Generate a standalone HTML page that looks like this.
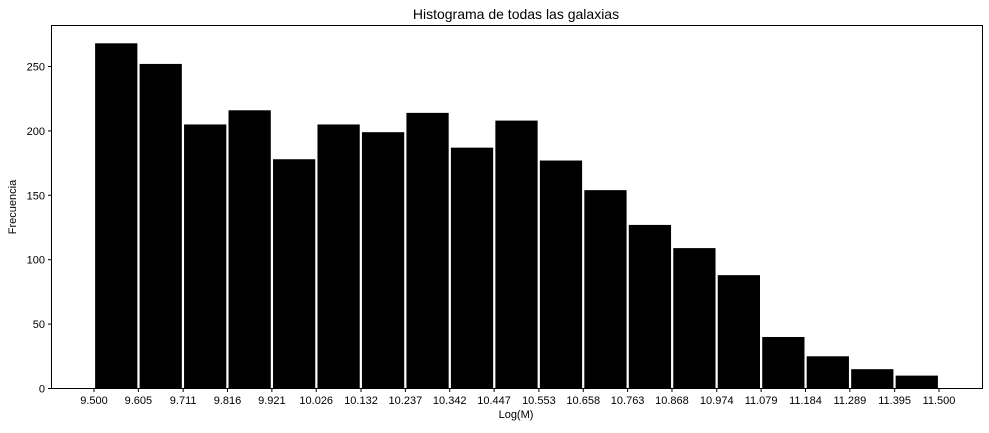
<!DOCTYPE html>
<html><head><meta charset="utf-8"><style>
body{margin:0;background:#fff;}
svg text{font-family:"Liberation Sans","DejaVu Sans",sans-serif;fill:#000;}
</style></head><body>
<svg id="chart" width="989" height="428" xmlns="http://www.w3.org/2000/svg">
<rect width="989" height="428" fill="#fff"/>
<text x="516" y="19" font-size="14" text-anchor="middle">Histograma de todas las galaxias</text>
<text x="516" y="418" font-size="11" text-anchor="middle">Log(M)</text>
<text transform="translate(16,207) rotate(-90)" font-size="11" text-anchor="middle">Frecuencia</text>
<g id="bars"></g><g id="axes"></g>
<rect x="51.5" y="25.5" width="931" height="363" fill="none" stroke="#000" stroke-width="1"/>
</svg>
<script>
const binEdges = ["9.500","9.605","9.711","9.816","9.921","10.026","10.132","10.237","10.342","10.447","10.553","10.658","10.763","10.868","10.974","11.079","11.184","11.289","11.395","11.500"];
const counts = [268,252,205,216,178,205,199,214,187,208,177,154,127,109,88,40,25,15,10];
const yTicks = [0,50,100,150,200,250];
const NS="http://www.w3.org/2000/svg";
const xScale=v=>94+(v-9.5)*422.5;
const yScale=v=>388.5-v*1.288;
const bars=document.getElementById('bars'), axes=document.getElementById('axes');
const w=(11.5-9.5)/counts.length;
counts.forEach((c,i)=>{
  const x0=xScale(9.5+i*w), x1=xScale(9.5+(i+1)*w), pw=(x1-x0)*0.95;
  const r=document.createElementNS(NS,'rect');
  r.setAttribute('x',x0+(x1-x0-pw)/2);r.setAttribute('width',pw);
  r.setAttribute('y',yScale(c));r.setAttribute('height',yScale(0)-yScale(c));
  r.setAttribute('fill','#000');
  
  
  bars.appendChild(r);
});
binEdges.forEach(s=>{
  const x=xScale(parseFloat(s));
  const l=document.createElementNS(NS,'line');
  l.setAttribute('x1',x);l.setAttribute('x2',x);l.setAttribute('y1',388.5);l.setAttribute('y2',392);l.setAttribute('stroke','#000');
  
  
  axes.appendChild(l);
  const t=document.createElementNS(NS,'text');
  t.setAttribute('x',x);t.setAttribute('y',404);t.setAttribute('font-size','11');t.setAttribute('text-anchor','middle');t.textContent=s;
  
  
  axes.appendChild(t);
});
yTicks.forEach(v=>{
  const y=yScale(v);
  const l=document.createElementNS(NS,'line');
  l.setAttribute('x1',48);l.setAttribute('x2',51.5);l.setAttribute('y1',y);l.setAttribute('y2',y);l.setAttribute('stroke','#000');
  
  
  axes.appendChild(l);
  const t=document.createElementNS(NS,'text');
  t.setAttribute('x',45);t.setAttribute('y',y+4);t.setAttribute('font-size','11');t.setAttribute('text-anchor','end');t.textContent=v;
  
  
  axes.appendChild(t);
});
</script>
</body></html>
